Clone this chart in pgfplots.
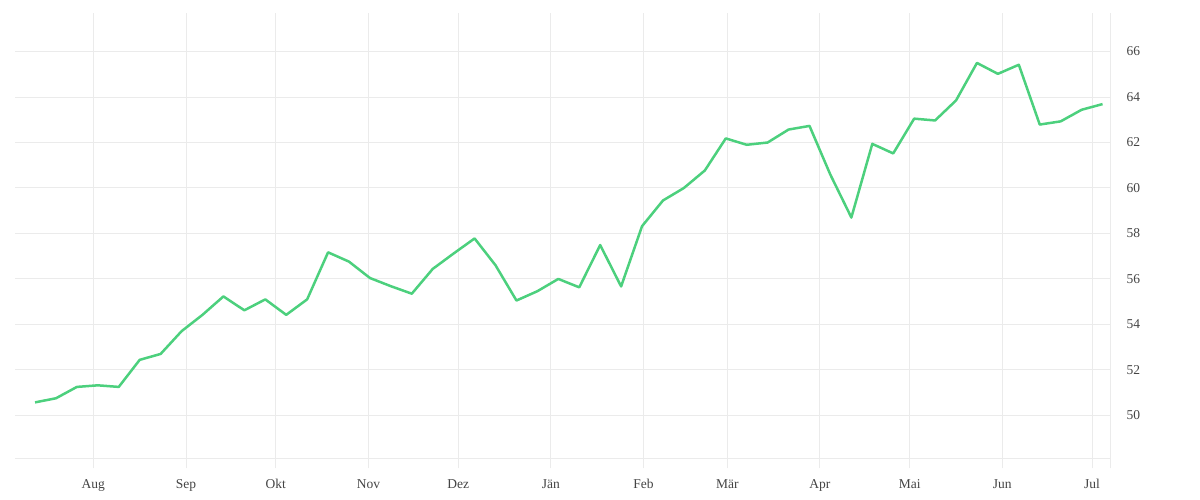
\documentclass[border=0pt]{standalone}
\usepackage{fontspec}
\setmainfont{Liberation Serif}
\usepackage{pgfplots}
\pgfplotsset{compat=1.18}
\definecolor{linegreen}{RGB}{76,208,125}
\definecolor{gridgrey}{RGB}{235,235,235}
\definecolor{labelgrey}{RGB}{68,68,68}

\begin{document}
\begin{tikzpicture}
\useasboundingbox (0,0) rectangle (1200bp,500bp);
\begin{axis}[
    at={(15bp,41.7bp)}, anchor=south west,
    scale only axis,
    width=1095bp, height=445.6bp,
    xmin=-26.2, xmax=340,
    ymin=48.11, ymax=67.71,
    axis x line*=bottom, axis y line*=right,
    axis line style={gridgrey, line width=1bp, -},
    xtick={0,31,61,92,122,153,184,212,243,273,304,334},
    xticklabels={Aug,Sep,Okt,Nov,Dez,Jän,Feb,Mär,Apr,Mai,Jun,Jul},
    extra x ticks={340}, extra x tick labels={},
    ytick={50,52,...,66},
    xmajorgrids, ymajorgrids,
    grid style={gridgrey, line width=1bp},
    tick align=outside,
    major tick length=10bp,
    xtick style={gridgrey, line width=1bp},
    ytick style={draw=none},
    /pgf/number format/assume math mode=true,
    ticklabel style={font=\fontsize{13.5bp}{16bp}\selectfont, text=labelgrey},
    yticklabel style={anchor=west, xshift=3bp},
    xticklabel style={anchor=base, yshift=-20bp},
    clip=false,
]
% weekly values
\addplot[linegreen, line width=2.5bp, line join=round] coordinates {
    (-19.5,50.57) (-12.5,50.75) (-5.5,51.25) (1.5,51.32) (8.5,51.25)
    (15.5,52.44) (22.5,52.70) (29.5,53.70) (36.5,54.42) (43.5,55.23)
    (50.5,54.62) (57.5,55.10) (64.5,54.42) (71.5,55.10) (78.5,57.17)
    (85.5,56.76) (92.5,56.04) (99.5,55.68) (106.5,55.35) (113.5,56.44)
    (120.5,57.12) (127.5,57.78) (134.5,56.60) (141.5,55.05) (148.5,55.46)
    (155.5,56.00) (162.5,55.63) (169.5,57.49) (176.5,55.67) (183.5,58.32)
    (190.5,59.45) (197.5,60.00) (204.5,60.77) (211.5,62.18) (218.5,61.90)
    (225.5,62.00) (232.5,62.57) (239.5,62.73) (246.5,60.58) (253.5,58.70)
    (260.5,61.94) (267.5,61.52) (274.5,63.05) (281.5,62.97) (288.5,63.85)
    (295.5,65.50) (302.5,65.02) (309.5,65.42) (316.5,62.79) (323.5,62.93)
    (330.5,63.44) (337.5,63.69)
};
\end{axis}
\end{tikzpicture}
\end{document}
